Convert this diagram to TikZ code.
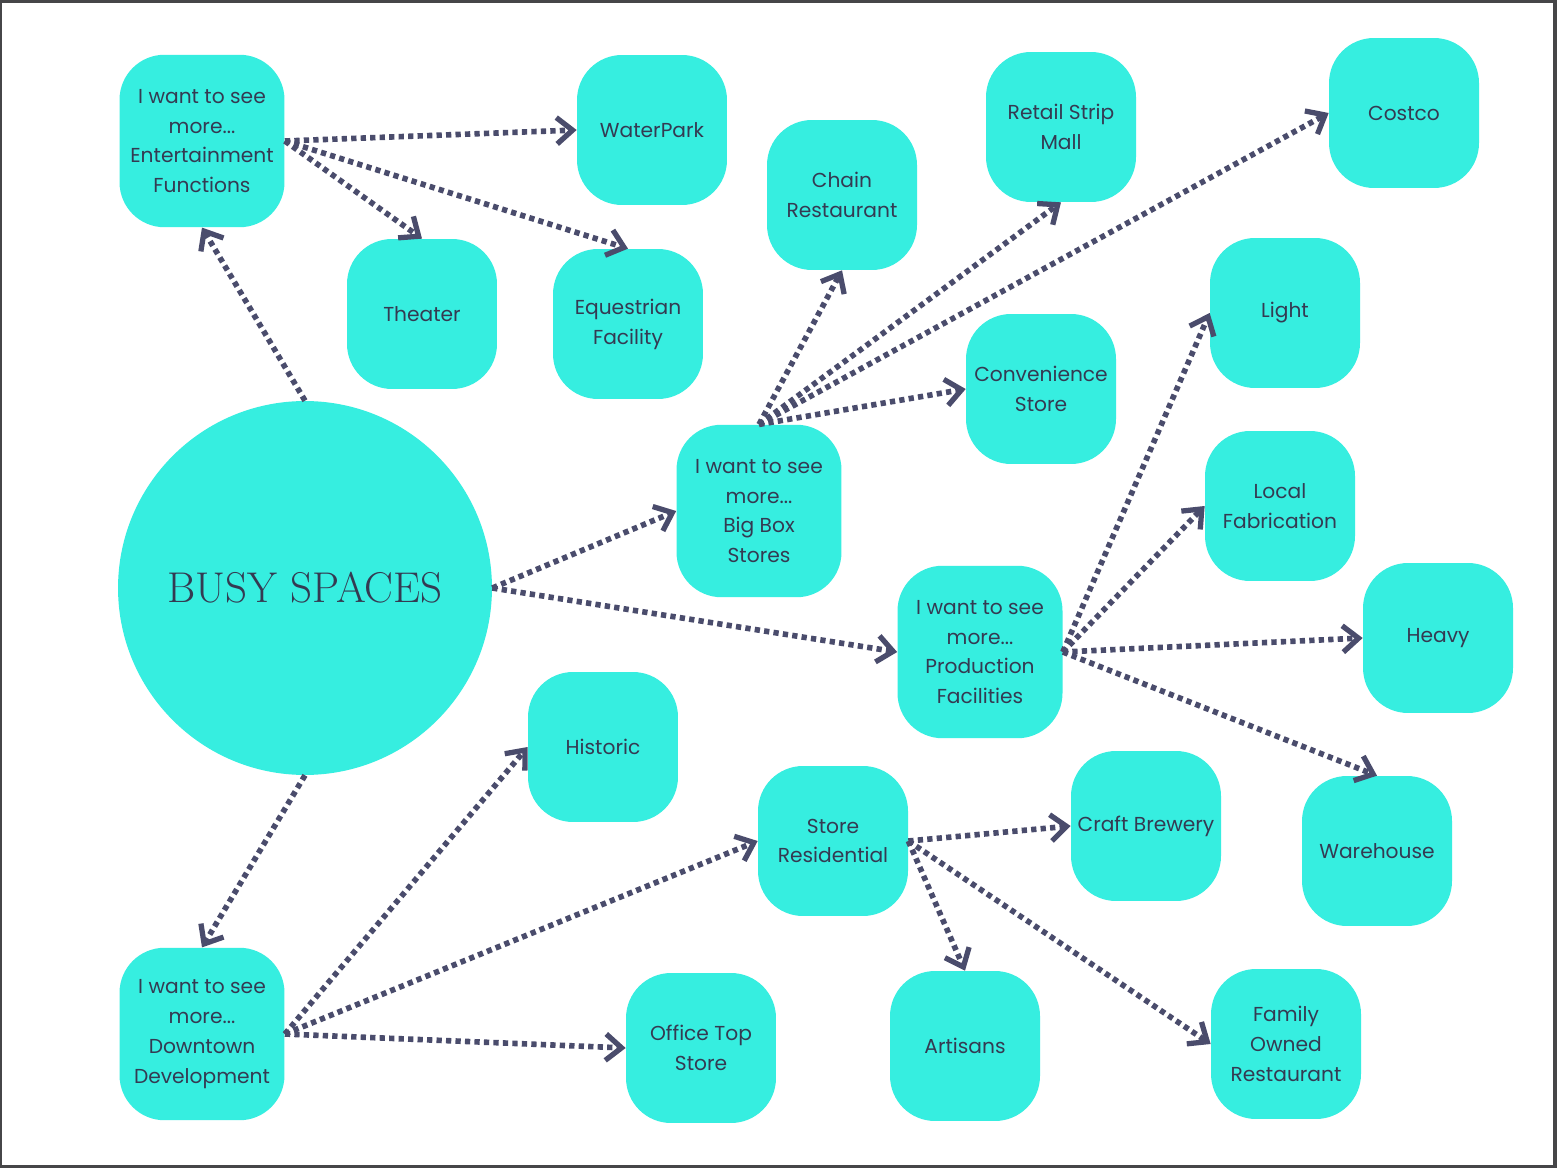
\documentclass[tikz,border=0pt]{standalone}
\usepackage{fontspec}
\setsansfont{Poppins}
\usetikzlibrary{arrows.meta}
\definecolor{aqua}{RGB}{54,238,224}
\definecolor{ink}{RGB}{52,58,82}
\definecolor{arrowc}{RGB}{74,76,108}
\definecolor{frame}{RGB}{70,70,72}

\begin{document}
\begin{tikzpicture}[x=0.02cm,y=-0.02cm,
    box/.style={fill=aqua,rounded corners=0.9cm,minimum width=3cm,minimum height=3cm,
        align=center,text=ink,font=\sffamily\fontsize{11.5}{17}\selectfont,inner sep=2pt},
    bigbox/.style={box,minimum width=3.3cm,minimum height=3.45cm},
    hub/.style={circle,fill=aqua,minimum size=7.48cm,text=ink,font=\fontsize{24.5}{26}\selectfont},
    arr/.style={arrowc,line width=3.2pt,dash pattern=on 3pt off 2.4pt,
        -{Straight Barb[length=9pt,width=15pt,line width=3pt]}}]
    % page and frame
    \fill[frame] (0,0) rectangle (1557,1168);
    \fill[white] (2,3) rectangle (1553,1165);
    % nodes
    \node[hub] (busy) at (305,588) {BUSY SPACES};
    \node[bigbox] (ent) at (202,141) {I want to see\\more...\\Entertainment\\Functions};
    \node[box] (water) at (652,130) {WaterPark};
    \node[box] (theater) at (422,314) {Theater};
    \node[box] (eques) at (628,324) {Equestrian\\Facility};
    \node[box] (chain) at (842,195) {Chain\\Restaurant};
    \node[box] (retail) at (1061,127) {Retail Strip\\Mall};
    \node[box] (costco) at (1404,113) {Costco};
    \node[box] (light) at (1285,313) {Light};
    \node[box] (conv) at (1041,389) {Convenience\\Store};
    \node[bigbox] (bigb) at (759,511) {I want to see\\more...\\Big Box\\Stores};
    \node[box] (local) at (1280,506) {Local\\Fabrication};
    \node[bigbox] (prod) at (980,652) {I want to see\\more...\\Production\\Facilities};
    \node[box] (heavy) at (1438,638) {Heavy};
    \node[box] (hist) at (603,747) {Historic};
    \node[box] (storres) at (833,841) {Store\\Residential};
    \node[box] (craft) at (1146,826) {Craft Brewery};
    \node[box] (wareh) at (1377,851) {Warehouse};
    \node[bigbox] (down) at (202,1034) {I want to see\\more...\\Downtown\\Development};
    \node[box] (office) at (701,1048) {Office Top\\Store};
    \node[box] (artis) at (965,1046) {Artisans};
    \node[box] (family) at (1286,1044) {Family\\Owned\\Restaurant};
    % connectors
    \draw[arr] (busy.north) -- (ent.south);
    \draw[arr] (busy.south) -- (down.north);
    \draw[arr] (busy.east) -- (bigb.west);
    \draw[arr] (busy.east) -- (prod.west);
    \draw[arr] (ent.east) -- (water.west);
    \draw[arr] (ent.east) -- (theater.north);
    \draw[arr] (ent.east) -- (eques.north);
    \draw[arr] (bigb.north) -- (chain.south);
    \draw[arr] (bigb.north) -- (retail.south);
    \draw[arr] (bigb.north) -- (costco.west);
    \draw[arr] (bigb.north) -- (conv.west);
    \draw[arr] (prod.east) -- (light.west);
    \draw[arr] (prod.east) -- (local.west);
    \draw[arr] (prod.east) -- (heavy.west);
    \draw[arr] (prod.east) -- (wareh.north);
    \draw[arr] (down.east) -- (hist.west);
    \draw[arr] (down.east) -- (storres.west);
    \draw[arr] (down.east) -- (office.west);
    \draw[arr] (storres.east) -- (craft.west);
    \draw[arr] (storres.east) -- (artis.north);
    \draw[arr] (storres.east) -- (family.west);
\end{tikzpicture}
\end{document}
